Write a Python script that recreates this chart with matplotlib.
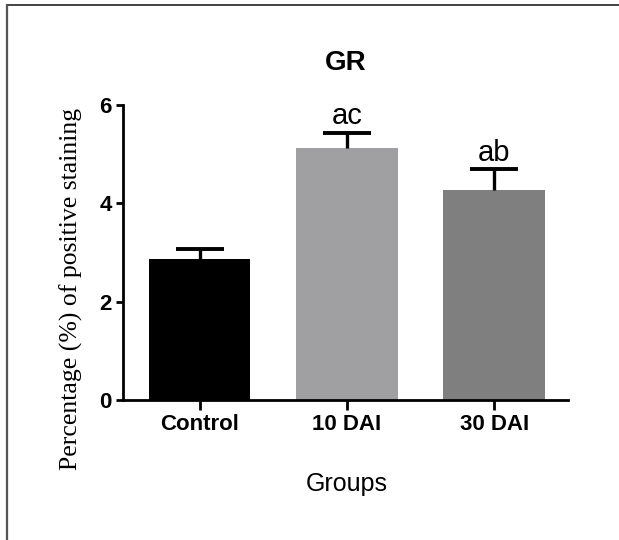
import matplotlib
matplotlib.use('Agg')
import matplotlib.pyplot as plt
from matplotlib.lines import Line2D

groups = ['Control', '10 DAI', '30 DAI']
means = [2.87, 5.13, 4.28]
errs = [0.20, 0.31, 0.41]
letters = ['', 'ac', 'ab']
colors = ['#000000', '#a0a0a3', '#7f7f7f']

plt.rcParams['font.family'] = ['Liberation Sans', 'DejaVu Sans']

fig = plt.figure(figsize=(6.19, 5.40), dpi=100)
ax = fig.add_axes([123/619, 1-400/540, 445/619, 295/540])

x = list(range(len(groups)))
ax.bar(x, means, width=0.69, color=colors, zorder=2)
eb = ax.errorbar(x, means, yerr=[[0]*len(errs), errs], fmt='none', ecolor='black',
                 elinewidth=2.4, capsize=17, capthick=2.8, zorder=3)
# only the upper cap, like the original (SEM shown upward)
for cap in eb[1]:
    if list(cap.get_ydata()) == means:
        cap.set_visible(False)

# significance letters above the caps
for i, lab in enumerate(letters):
    if lab:
        ax.annotate(lab, xy=(i, means[i] + errs[i]), xytext=(0, 2),
                    textcoords='offset points', ha='center', va='bottom', fontsize=21)

ax.set_xlim(-0.52, 2.5)
ax.set_ylim(0, 6)
ax.set_yticks([0, 2, 4, 6])
ax.set_xticks(x)
ax.set_xticklabels(groups, fontsize=16, fontweight='bold')
for t in ax.get_yticklabels():
    t.set_fontsize(16)
    t.set_fontweight('bold')

for s in ['top', 'right']:
    ax.spines[s].set_visible(False)
for s in ['left', 'bottom']:
    ax.spines[s].set_linewidth(2)
ax.tick_params(axis='y', length=5, width=2, pad=3)
ax.tick_params(axis='x', length=7, width=2, pad=3)

ax.set_ylabel('Percentage (%) of positive staining', family='Liberation Serif',
              fontsize=18.5, va='center', ha='center')
ax.yaxis.set_label_coords(-0.117, 0.376)
ax.set_xlabel('Groups', fontsize=18, va='baseline')
ax.xaxis.set_label_coords(0.503, -0.308)

fig.text(345.5/619, 1-70/540, 'GR', ha='center', va='baseline', fontsize=20, fontweight='bold')

# frame around the picture (top and left only)
fig.add_artist(Line2D([7/619, 1], [1-5/540, 1-5/540], transform=fig.transFigure,
                      color='#222222', lw=1.2))
fig.add_artist(Line2D([7/619, 7/619], [0, 1-5/540], transform=fig.transFigure,
                      color='#555555', lw=1.6))

fig.savefig('out.png', dpi=100)
